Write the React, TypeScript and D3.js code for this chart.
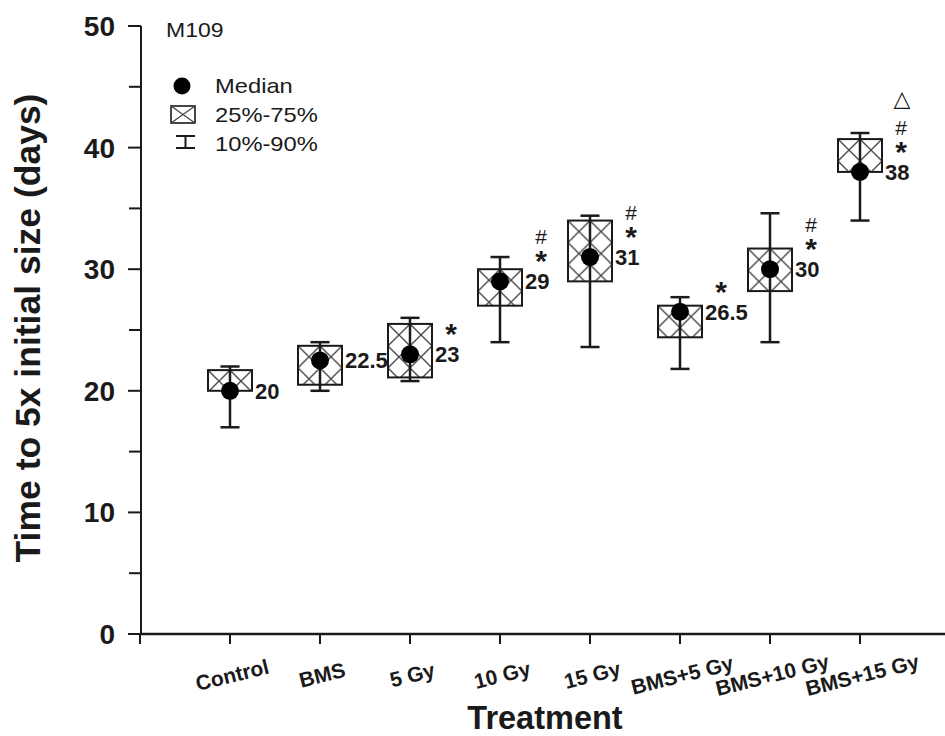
import React from "react";
import * as d3 from "d3";

const categories = ["Control", "BMS", "5 Gy", "10 Gy", "15 Gy", "BMS+5 Gy", "BMS+10 Gy", "BMS+15 Gy"];
const medians = [20, 22.5, 23, 29, 31, 26.5, 30, 38];
const q25 = [20.0, 20.5, 21.1, 27, 29, 24.4, 28.2, 38.0];
const q75 = [21.7, 23.7, 25.5, 30, 34, 27, 31.7, 40.7];
const p10 = [17, 20, 20.8, 24, 23.6, 21.8, 24, 34];
const p90 = [22, 24, 26, 31, 34.4, 27.7, 34.6, 41.2];
const medianLabels = ["20", "22.5", "23", "29", "31", "26.5", "30", "38"];
const significance = [[], [], ["*"], ["*", "#"], ["*", "#"], ["*"], ["*", "#"], ["*", "#", "△"]];
const yMajorTicks = [0, 10, 20, 30, 40, 50];
const yMinorTicks = [5, 15, 25, 35, 45];
const legendItems = ["Median", "25%-75%", "10%-90%"];

const W = 945;
const H = 736;
const FONT = "'Liberation Sans', Arial, Helvetica, sans-serif";
const INK = "#1a1a1a";

export default function App() {
  const y = d3.scaleLinear().domain([0, 50]).range([634, 26]);
  const x = d3.scaleLinear().domain([0, 9]).range([140, 950]);
  const xTicks = d3.range(0, 9);
  const boxW = 44;
  const capW = 19;
  const period = 22;

  const symOffset: Record<string, number> = { "*": 27, "#": 45, "△": 74 };

  return (
    <svg
      width={W}
      height={H}
      viewBox={`0 0 ${W} ${H}`}
      style={{ position: "absolute", left: 0, top: 0, background: "#fff" }}
    >
      <defs>
        {categories.map((c, i) => {
          const cx = x(i + 1);
          return (
            <pattern
              key={c}
              id={`hatch${i}`}
              patternUnits="userSpaceOnUse"
              x={cx - boxW / 2}
              y={y(q75[i])}
              width={period}
              height={period}
            >
              <line x1={0} y1={0} x2={period} y2={period} stroke="#444" strokeWidth={1.3} />
              <line x1={period} y1={0} x2={0} y2={period} stroke="#444" strokeWidth={1.3} />
            </pattern>
          );
        })}
      </defs>

      {/* Y axis */}
      <line x1={141} x2={141} y1={y(50)} y2={y(0)} stroke={INK} strokeWidth={2} />
      {yMajorTicks.map((t) => (
        <g key={`yt${t}`}>
          <line x1={128} x2={141} y1={y(t)} y2={y(t)} stroke={INK} strokeWidth={2} />
          <text
            x={115}
            y={y(t) + 10}
            textAnchor="end"
            fontFamily={FONT}
            fontWeight="bold"
            fontSize={28}
            fill={INK}
          >
            {t}
          </text>
        </g>
      ))}
      {yMinorTicks.map((t) => (
        <line key={`ym${t}`} x1={129} x2={141} y1={y(t)} y2={y(t)} stroke={INK} strokeWidth={2} />
      ))}

      {/* X axis */}
      <line x1={141} x2={W} y1={y(0)} y2={y(0)} stroke={INK} strokeWidth={2.5} />
      {xTicks.map((k) => (
        <line key={`xt${k}`} x1={x(k)} x2={x(k)} y1={y(0)} y2={y(0) + 10} stroke={INK} strokeWidth={2} />
      ))}
      {categories.map((c, i) => (
        <text
          key={`xl${c}`}
          transform={`translate(${x(i + 1) + 4},${682}) rotate(-14)`}
          textAnchor="middle"
          fontFamily={FONT}
          fontWeight="bold"
          fontSize={21}
          fill={INK}
        >
          {c}
        </text>
      ))}

      {/* Axis titles */}
      <text
        transform={`translate(40,328) rotate(-90)`}
        textAnchor="middle"
        fontFamily={FONT}
        fontWeight="bold"
        fontSize={35.5}
        fill={INK}
      >
        Time to 5x initial size (days)
      </text>
      <text
        x={545}
        y={729}
        textAnchor="middle"
        fontFamily={FONT}
        fontWeight="bold"
        fontSize={32.5}
        fill={INK}
      >
        Treatment
      </text>

      {/* Boxes */}
      {categories.map((c, i) => {
        const cx = x(i + 1);
        const top = y(q75[i]);
        const bot = y(q25[i]);
        const my = y(medians[i]);
        return (
          <g key={`b${c}`}>
            <rect
              x={cx - boxW / 2}
              y={top}
              width={boxW}
              height={bot - top}
              fill={`url(#hatch${i})`}
              stroke={INK}
              strokeWidth={2}
            />
            <line x1={cx} x2={cx} y1={y(p90[i])} y2={y(p10[i])} stroke={INK} strokeWidth={2.5} />
            <line x1={cx - capW / 2} x2={cx + capW / 2} y1={y(p90[i])} y2={y(p90[i])} stroke={INK} strokeWidth={2.5} />
            <line x1={cx - capW / 2} x2={cx + capW / 2} y1={y(p10[i])} y2={y(p10[i])} stroke={INK} strokeWidth={2.5} />
            <circle cx={cx} cy={my} r={9} fill="#000" />
            <text
              x={cx + 25}
              y={my + 8}
              fontFamily={FONT}
              fontWeight="bold"
              fontSize={22}
              fill={INK}
            >
              {medianLabels[i]}
            </text>
            {significance[i].map((s) => {
              const ty = my - symOffset[s];
              if (s === "*") {
                return (
                  <text key={s} x={cx + 41} y={ty + 17} textAnchor="middle" fontFamily={FONT} fontWeight="bold" fontSize={30} fill={INK}>
                    *
                  </text>
                );
              }
              if (s === "#") {
                return (
                  <text key={s} x={cx + 41} y={ty + 8} textAnchor="middle" fontFamily={FONT} fontSize={21} fill={INK}>
                    #
                  </text>
                );
              }
              return (
                <text key={s} x={cx + 42} y={ty + 8} textAnchor="middle" fontFamily="'DejaVu Sans', sans-serif" fontSize={22} fill={INK}>
                  {s}
                </text>
              );
            })}
          </g>
        );
      })}

      {/* Legend */}
      <text transform="translate(166,37) scale(1.15,1)" fontFamily={FONT} fontSize={20} fill={INK}>
        M109
      </text>
      <circle cx={182} cy={86} r={8.5} fill="#000" />
      <rect x={171} y={106} width={24} height={17} fill="#fff" stroke={INK} strokeWidth={1.6} />
      <line x1={171} y1={106} x2={195} y2={123} stroke="#444" strokeWidth={1.2} />
      <line x1={195} y1={106} x2={171} y2={123} stroke="#444" strokeWidth={1.2} />
      <line x1={185.5} x2={185.5} y1={136} y2={148} stroke={INK} strokeWidth={2} />
      <line x1={176} x2={195} y1={136} y2={136} stroke={INK} strokeWidth={2} />
      <line x1={176} x2={195} y1={148} y2={148} stroke={INK} strokeWidth={2} />
      {legendItems.map((t, i) => (
        <text
          key={t}
          transform={`translate(215,${93 + i * 29}) scale(1.13,1)`}
          fontFamily={FONT}
          fontSize={21}
          fill={INK}
        >
          {t}
        </text>
      ))}
    </svg>
  );
}
